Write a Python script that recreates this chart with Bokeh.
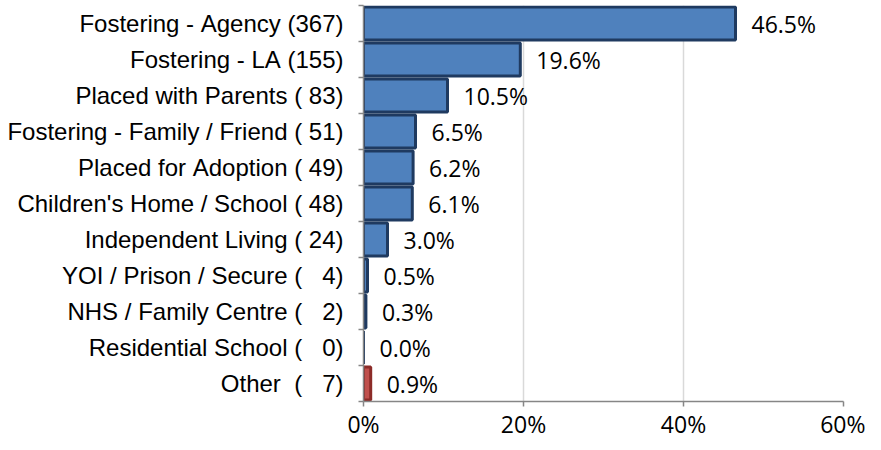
from bokeh.plotting import figure
from bokeh.models import Range1d, FixedTicker, PrintfTickFormatter, ColumnDataSource
from bokeh.core.properties import value
from bokeh.embed import file_html
from bokeh.resources import INLINE

NB = "\u00a0"
categories = [
    "Fostering - Agency (367)",
    "Fostering - LA (155)",
    "Placed with Parents ( 83)",
    "Fostering - Family / Friend ( 51)",
    "Placed for Adoption ( 49)",
    "Children's Home / School ( 48)",
    "Independent Living ( 24)",
    "YOI / Prison / Secure (   4)",
    "NHS / Family Centre (   2)",
    "Residential School (   0)",
    "Other  (   7)",
]
counts = [367, 155, 83, 51, 49, 48, 24, 4, 2, 0, 7]
percent = [46.5, 19.6, 10.5, 6.5, 6.2, 6.1, 3.0, 0.5, 0.3, 0.0, 0.9]
x_ticks = [0, 20, 40, 60]

n = len(categories)
ypos = [n - i - 0.5 for i in range(n)]
fills = ["#4F81BD"] * (n - 1) + ["#C0504D"]
borders = ["#1F3A60"] * (n - 1) + ["#8C2B28"]
labels = [f"{v:.1f}%" for v in percent]

src = ColumnDataSource(dict(y=ypos, pct=percent, fill=fills, border=borders, lab=labels))

p = figure(width=865, height=442, output_backend="svg", toolbar_location=None,
           x_range=Range1d(0, 60), y_range=Range1d(0, n),
           min_border_left=363, min_border_right=22, min_border_top=5, min_border_bottom=40)
p.outline_line_color = None

p.hbar(y="y", left=0, right="pct", height=0.92, fill_color="fill", line_color="border",
       line_width=3, source=src)
p.text(x="pct", y="y", text="lab", source=src, x_offset=16, text_baseline="middle",
       text_align="left", text_font=value("Open Sans"), text_font_size="23px", text_color="#000000")

# x axis
p.xaxis.ticker = FixedTicker(ticks=x_ticks)
p.xaxis.formatter = PrintfTickFormatter(format="%d%%")
p.xaxis.axis_line_color = "#868686"
p.xaxis.axis_line_width = 1.5
p.xaxis.major_tick_line_color = "#868686"
p.xaxis.major_tick_line_width = 1.5
p.xaxis.major_tick_out = 5
p.xaxis.major_tick_in = 0
p.xaxis.minor_tick_line_color = None
p.xaxis.major_label_standoff = 1
p.xaxis.major_label_text_font = "Open Sans"
p.xaxis.major_label_text_font_size = "23px"
p.xaxis.major_label_text_color = "#000000"

p.xgrid.ticker = FixedTicker(ticks=[20, 40, 60])
p.xgrid.grid_line_color = "#D9D9D9"
p.xgrid.grid_line_width = 1.5
p.ygrid.grid_line_color = None

# y axis
p.yaxis.ticker = FixedTicker(ticks=ypos, minor_ticks=list(range(n + 1)))
p.yaxis.major_label_overrides = {float(y): c.replace(" ", NB) for y, c in zip(ypos, categories)}
p.yaxis.axis_line_color = "#868686"
p.yaxis.axis_line_width = 1.5
p.yaxis.major_tick_line_color = None
p.yaxis.major_tick_out = 0
p.yaxis.major_tick_in = 0
p.yaxis.minor_tick_line_color = "#868686"
p.yaxis.minor_tick_line_width = 1.5
p.yaxis.minor_tick_out = 5
p.yaxis.minor_tick_in = 0
p.yaxis.major_label_standoff = 15
p.yaxis.major_label_text_font = "Liberation Sans"
p.yaxis.major_label_text_font_size = "24px"
p.yaxis.major_label_text_color = "#000000"

open("out.html", "w").write(file_html(p, INLINE))
